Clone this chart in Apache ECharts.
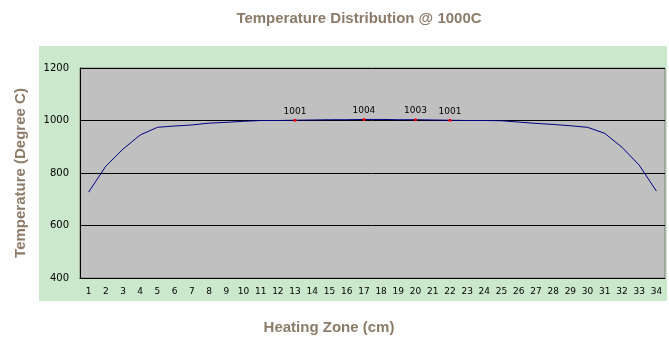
<!DOCTYPE html>
<html><head><meta charset="utf-8">
<script src="https://cdn.jsdelivr.net/npm/echarts@6/dist/echarts.min.js"></script>
<style>html,body{margin:0;padding:0;background:#fff}#c{width:669px;height:349px}</style>
</head><body><div id="c"></div>
<script>
const zones = ['1','2','3','4','5','6','7','8','9','10','11','12','13','14','15','16','17','18','19','20','21','22','23','24','25','26','27','28','29','30','31','32','33','34'];
const temps = [727,826,891,945,974,979,983,990,993,997,1000,1000,1001,1002,1003,1003,1004,1004,1003,1003,1002,1001,1000,1000,999,994,989,985,980,974,951,898,830,731];
const labeledZones = ['13','17','20','22'];
const yTicks = {min:400, max:1200, interval:200};

const chart = echarts.init(document.getElementById('c'), null, {renderer:'canvas'});
const data = temps.map((v,i)=>{
  if (labeledZones.includes(zones[i])) {
    return {value:v, symbol:'circle', symbolSize:3, itemStyle:{color:'#ff0000'},
      label:{show:true, position:'top', distance:3, formatter:String(v), color:'#000', fontSize:9, fontFamily:'DejaVu Sans'}};
  }
  return {value:v};
});
const titleColor = '#8c7b68';
chart.setOption({
  animation:false,
  backgroundColor:'#ffffff',
  graphic:[
    {type:'rect', z:-10, shape:{x:39,y:46,width:628,height:255}, style:{fill:'#cbe8cc'}},
    {type:'text', style:{text:'Heating Zone (cm)', x:329, y:328, textAlign:'center', textVerticalAlign:'middle',
      fill:titleColor, font:'bold 15px "Liberation Sans"'}}
  ],
  title:{text:'Temperature Distribution @ 1000C', left:354, top:6, textAlign:'center',
    textStyle:{color:titleColor, fontSize:15, fontWeight:'bold', fontFamily:'Liberation Sans'}},
  grid:{left:80, top:68, right:4, bottom:71, show:true, backgroundColor:'#c0c0c0', borderColor:'#808080', borderWidth:1},
  xAxis:{type:'category', data:zones, boundaryGap:true,
    axisLine:{show:true, lineStyle:{color:'#000', width:1}}, axisTick:{show:false},
    axisLabel:{color:'#000', fontSize:9, margin:9, interval:0, fontFamily:'DejaVu Sans'}, splitLine:{show:false}},
  yAxis:{type:'value', min:yTicks.min, max:yTicks.max, interval:yTicks.interval,
    name:'Temperature (Degree C)', nameLocation:'middle', nameGap:52, nameRotate:90,
    nameTextStyle:{color:titleColor, fontSize:15, fontWeight:'bold', fontFamily:'Liberation Sans'},
    axisLine:{show:true, lineStyle:{color:'#000', width:1}}, axisTick:{show:false},
    axisLabel:{color:'#000', fontSize:10, margin:11, fontFamily:'DejaVu Sans', formatter:v=>String(v)},
    splitLine:{show:true, lineStyle:{color:'#000', width:1}}},
  series:[{type:'line', data:data, showSymbol:true, symbol:'none', smooth:false,
    lineStyle:{color:'#000080', width:1}, itemStyle:{color:'#000080'}}]
});
</script></body></html>
